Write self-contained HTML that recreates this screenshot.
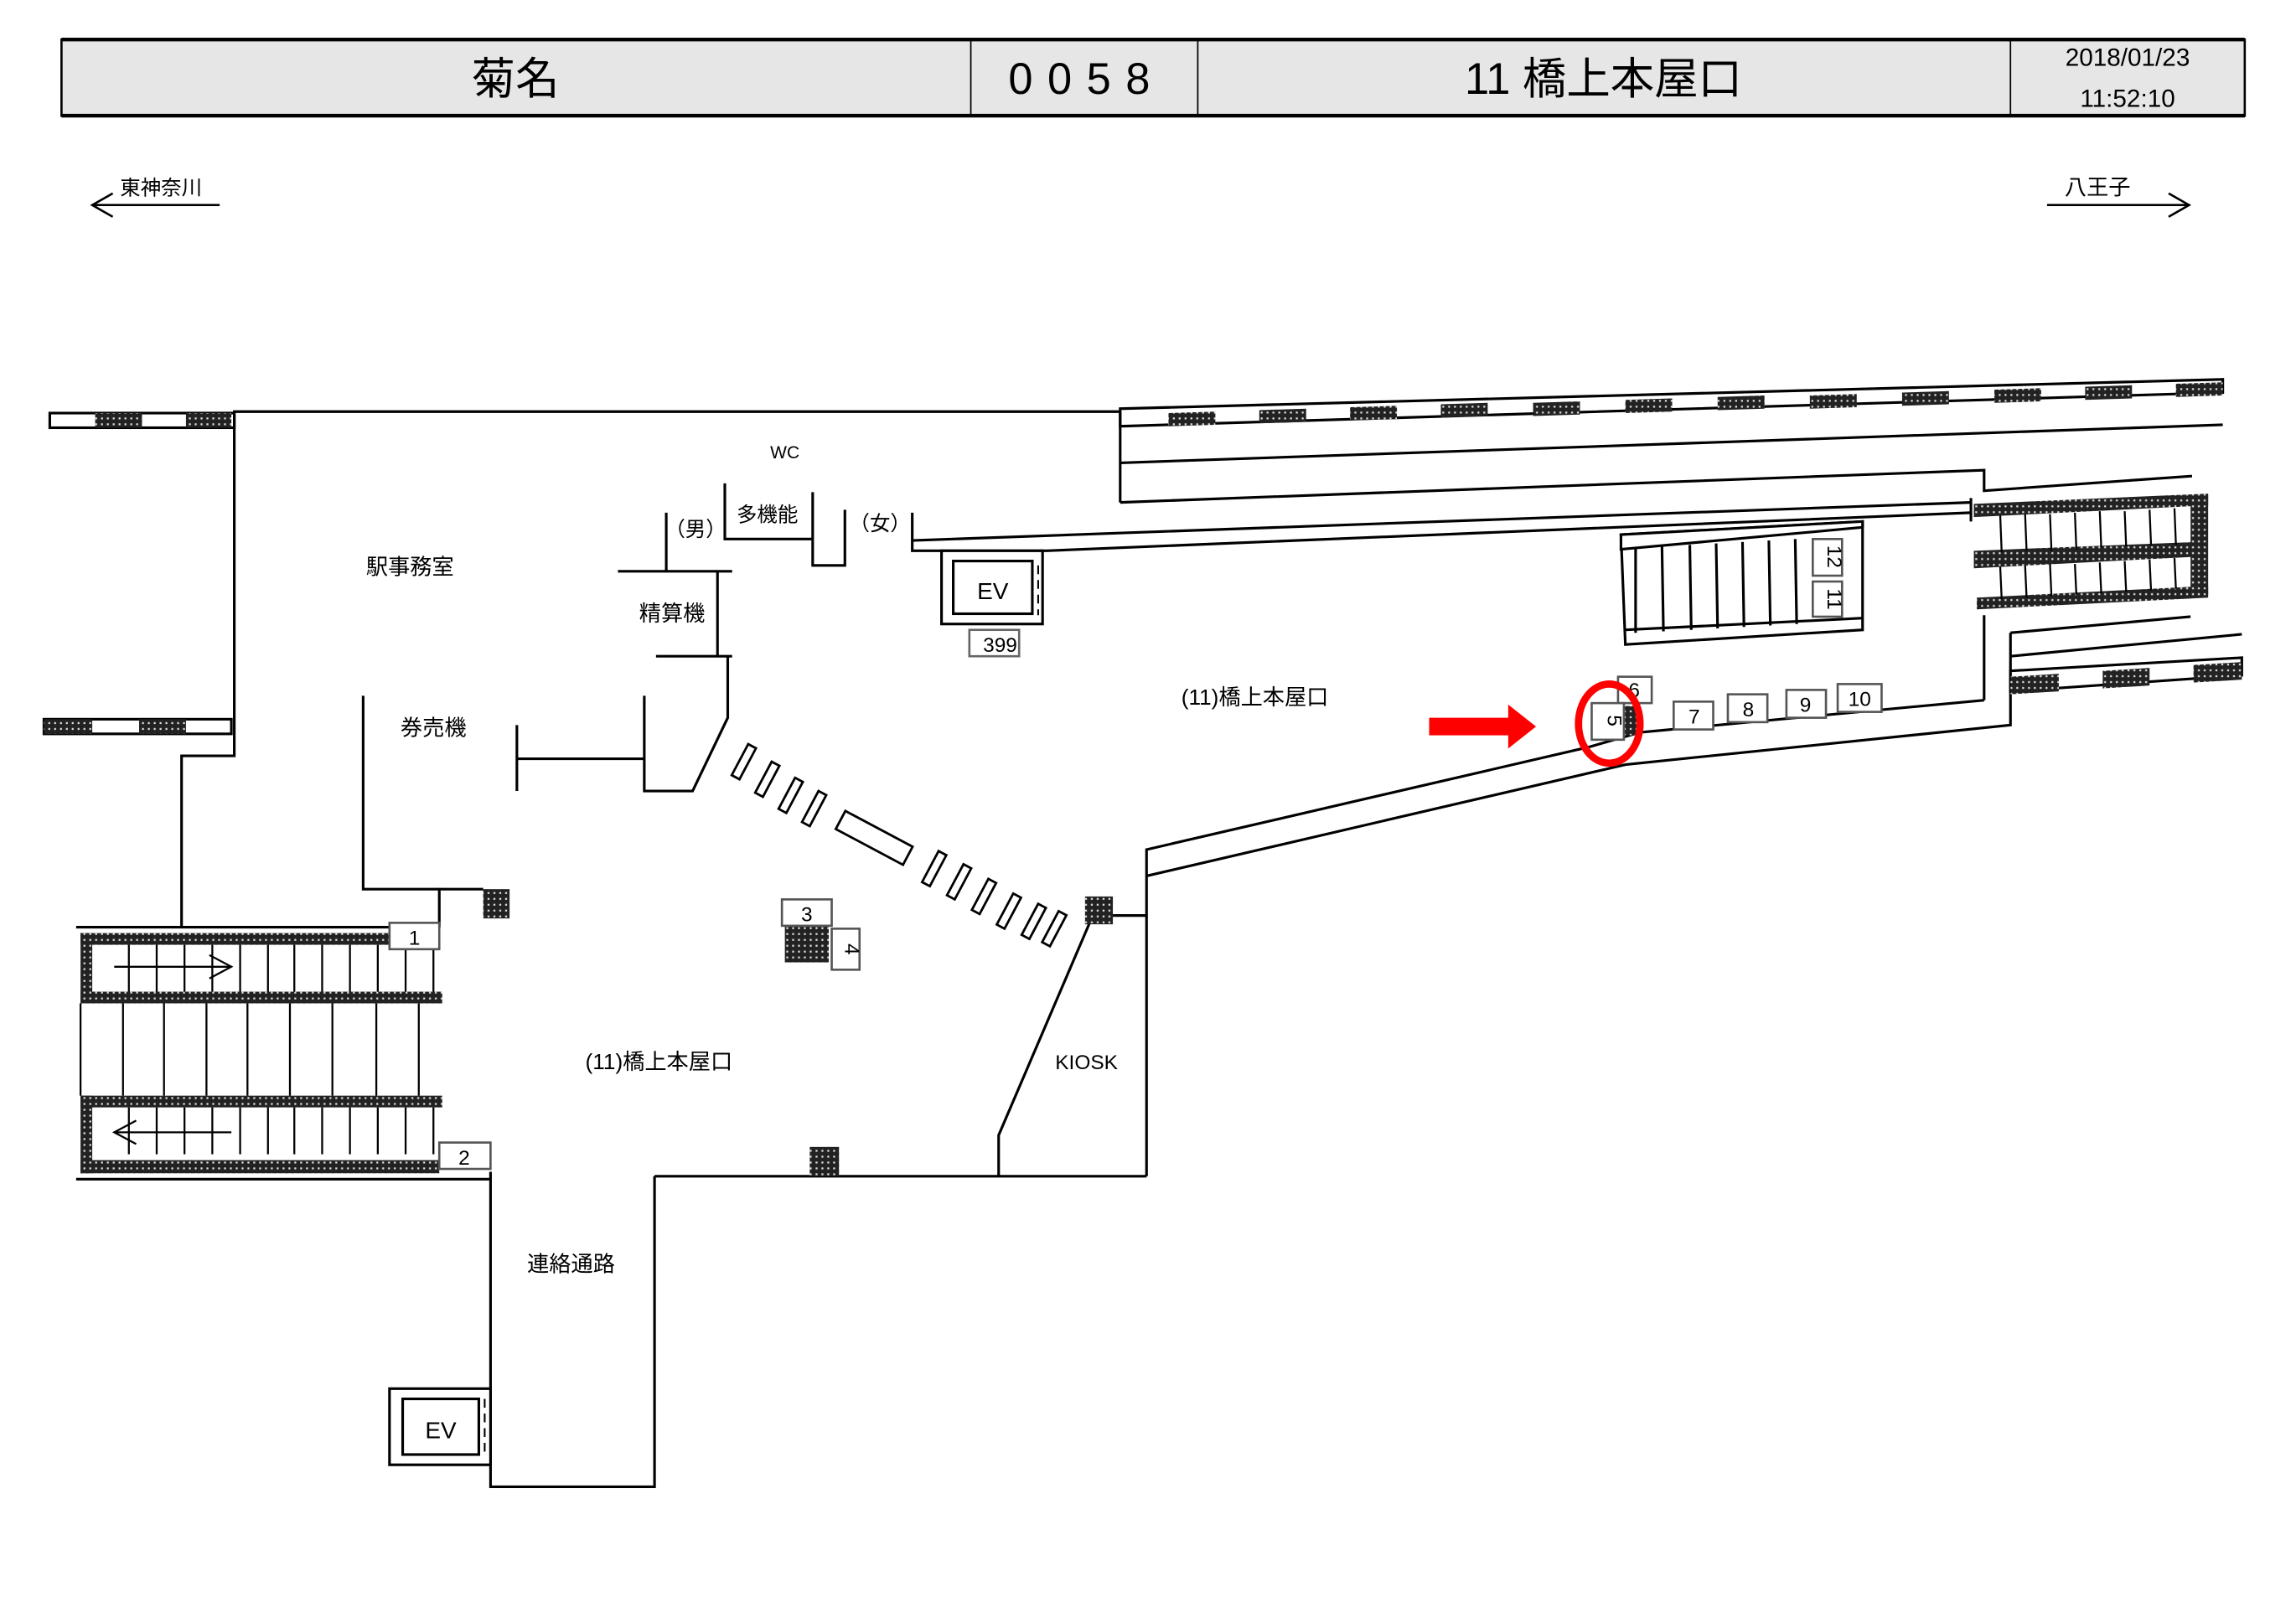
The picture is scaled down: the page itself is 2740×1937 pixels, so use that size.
<!DOCTYPE html>
<html><head><meta charset="utf-8">
<style>
html,body{margin:0;padding:0;background:#fff;}
svg{display:block;}
text{font-family:"Liberation Sans","Noto Sans CJK JP",sans-serif;fill:#000;}
</style></head><body>
<svg width="2740" height="1937" viewBox="0 0 1568 1108" preserveAspectRatio="none" xmlns="http://www.w3.org/2000/svg">
<defs>
<pattern id="h" width="4" height="4" patternUnits="userSpaceOnUse">
<rect width="4" height="4" fill="#222"/><rect x="1" y="1" width="1.3" height="1.3" fill="#ddd"/>
</pattern>
</defs>
<rect x="42" y="27" width="1491" height="52" fill="#e6e6e6" stroke="#000" stroke-width="1.5"/>
<line x1="42" y1="27" x2="1533" y2="27" stroke="#000" stroke-width="2.5"/>
<line x1="42" y1="79" x2="1533" y2="79" stroke="#000" stroke-width="2.5"/>
<line x1="663" y1="27" x2="663" y2="79" stroke="#000"/>
<line x1="818" y1="27" x2="818" y2="79" stroke="#000"/>
<line x1="1373" y1="27" x2="1373" y2="79" stroke="#000"/>
<text x="352" y="64" font-size="30" text-anchor="middle">菊名</text>
<text x="742" y="64" font-size="30" text-anchor="middle" letter-spacing="10">0058</text>
<text x="1095" y="64" font-size="30" text-anchor="middle">11 橋上本屋口</text>
<text x="1453" y="45" font-size="17" text-anchor="middle">2018/01/23</text>
<text x="1453" y="73" font-size="17" text-anchor="middle">11:52:10</text>
<g stroke="#000" stroke-width="1.5" fill="none">
<line x1="63" y1="140" x2="150" y2="140"/><polyline points="77,132 63,140 77,148"/>
<line x1="1398" y1="140" x2="1495" y2="140"/><polyline points="1481,132 1495,140 1481,148"/>
</g>
<text x="82" y="133" font-size="14">東神奈川</text>
<text x="1410" y="133" font-size="15">八王子</text>

<g stroke="#000" stroke-width="1.8" fill="none">
<rect x="34" y="282" width="126" height="10" fill="#fff"/>
<rect x="30" y="491" width="128" height="10" fill="#fff"/>
<polyline points="765,281 160,281 160,516 124,516 124,633"/>
<line x1="52" y1="633" x2="300" y2="633"/>
<line x1="52" y1="805" x2="335" y2="805"/>
<polyline points="248,475 248,607 300,607 300,633"/>
<line x1="300" y1="607" x2="330" y2="607"/>
<line x1="353" y1="495" x2="353" y2="540"/>
<line x1="353" y1="518" x2="440" y2="518"/>
<polyline points="440,475 440,540 473,540 497,490 497,448"/>
<line x1="448" y1="448" x2="500" y2="448"/>
<line x1="490" y1="448" x2="490" y2="390"/>
<line x1="422" y1="390" x2="500" y2="390"/>
<line x1="455" y1="390" x2="455" y2="350"/>
<polyline points="495,330 495,368 555,368"/>
<polyline points="555,336 555,386 577,386 577,348"/>
<polyline points="623,350 623,376 715,376 1346,350"/>
<polyline points="623,369 1346,343"/>
<line x1="1346" y1="340" x2="1346" y2="356"/>
<polygon points="765,279 1518,259 1518,268 765,291" fill="#fff"/>
<line x1="765" y1="281" x2="765" y2="343"/>
<line x1="765" y1="316" x2="1518" y2="290"/>
<polyline points="765,343 1355,321 1355,335 1497,325"/>
<polygon points="1107,365 1272,356 1272,430 1110,440" fill="#fff"/>
<polygon points="1107,365 1272,356 1272,360 1107,375" fill="#fff"/>
<line x1="1110" y1="430" x2="1272" y2="422"/>
<polyline points="1117,374 1117,432"/><polyline points="1135,373 1136,431"/><polyline points="1154,372 1155,430"/><polyline points="1172,371 1173,429"/><polyline points="1190,370 1191,428"/><polyline points="1208,369 1209,427"/><polyline points="1226,368 1227,426"/>
<line x1="1355" y1="420" x2="1355" y2="478"/>
<polyline points="1355,478 1120,500 1085,510 783,580 783,803"/>
<polyline points="1373,432 1373,495 1110,522 783,598"/>
<line x1="1373" y1="432" x2="1496" y2="421"/>
<line x1="1373" y1="448" x2="1531" y2="433"/>
<polygon points="1373,458 1531,449 1531,461 1373,472" fill="#fff"/>
<line x1="783" y1="625" x2="760" y2="625"/>
<polyline points="745,628 682,775 682,803"/>
<line x1="447" y1="803" x2="783" y2="803"/>
<polyline points="335,800 335,1015 447,1015 447,803"/>
<rect x="643" y="376" width="69" height="50" fill="#fff"/>
<rect x="651" y="383" width="54" height="36"/>
<rect x="266" y="948" width="69" height="52" fill="#fff"/>
<rect x="275" y="955" width="52" height="38"/>
</g>
<g stroke="#000" stroke-width="1.2" stroke-dasharray="6,4">
<line x1="709" y1="386" x2="709" y2="420"/>
<line x1="331" y1="955" x2="331" y2="993"/>
</g>
<text x="678" y="409" font-size="16" text-anchor="middle">EV</text>
<text x="301" y="982" font-size="16" text-anchor="middle">EV</text>
<rect x="662" y="430" width="34" height="18" fill="#fff" stroke="#666" stroke-width="1.5"/>
<text x="683" y="445" font-size="14" text-anchor="middle">399</text>

<g fill="url(#h)">
<rect x="65" y="282" width="32" height="10"/><rect x="127" y="282" width="31" height="10"/>
<rect x="30" y="491" width="33" height="10"/><rect x="95" y="491" width="32" height="10"/>
<rect x="330" y="607" width="18" height="20"/>
<rect x="741" y="612" width="19" height="19"/>
<rect x="553" y="783" width="20" height="20"/>
<rect x="536" y="632" width="30" height="25"/>
<rect x="1109" y="482" width="11" height="20"/>
<polygon points="798,282 830,281 830,290 798,291"/>
<polygon points="860,280 892,279 892,288 860,289"/>
<polygon points="922,278 954,277 954,286 922,287"/>
<polygon points="984,276 1016,275 1016,284 984,285"/>
<polygon points="1047,275 1079,274 1079,283 1047,284"/>
<polygon points="1110,273 1142,272 1142,281 1110,282"/>
<polygon points="1173,271 1205,270 1205,279 1173,280"/>
<polygon points="1236,270 1268,269 1268,278 1236,279"/>
<polygon points="1299,268 1331,267 1331,276 1299,277"/>
<polygon points="1362,266 1394,265 1394,274 1362,275"/>
<polygon points="1424,264 1456,263 1456,272 1424,273"/>
<polygon points="1486,262 1518,261 1518,270 1486,271"/>
<polygon points="1373,462 1406,460 1406,472 1373,474"/>
<polygon points="1436,458 1468,456 1468,468 1436,470"/>
<polygon points="1498,454 1531,452 1531,464 1498,466"/>
<polygon points="1348,344 1508,337 1508,345 1348,353"/>
<polygon points="1348,376 1500,370 1500,380 1348,388"/>
<polygon points="1350,408 1508,400 1508,408 1350,416"/>
<rect x="1496" y="338" width="12" height="68"/>
<rect x="55" y="637" width="245" height="8"/><rect x="55" y="677" width="247" height="8"/>
<rect x="55" y="637" width="8" height="48"/>
<rect x="55" y="748" width="247" height="8"/><rect x="55" y="792" width="245" height="9"/>
<rect x="55" y="748" width="8" height="53"/>
</g>
<g stroke="#000" stroke-width="1.3">
<line x1="1366" y1="352" x2="1367" y2="377"/><line x1="1383" y1="351" x2="1384" y2="376"/><line x1="1400" y1="351" x2="1401" y2="376"/><line x1="1417" y1="350" x2="1418" y2="375"/><line x1="1434" y1="349" x2="1435" y2="374"/><line x1="1451" y1="349" x2="1452" y2="373"/><line x1="1468" y1="348" x2="1469" y2="372"/><line x1="1485" y1="347" x2="1486" y2="372"/>
<line x1="1366" y1="387" x2="1367" y2="409"/><line x1="1383" y1="386" x2="1384" y2="408"/><line x1="1400" y1="385" x2="1401" y2="407"/><line x1="1417" y1="385" x2="1418" y2="406"/><line x1="1434" y1="384" x2="1435" y2="405"/><line x1="1451" y1="383" x2="1452" y2="404"/><line x1="1468" y1="382" x2="1469" y2="403"/><line x1="1485" y1="381" x2="1486" y2="402"/>
<line x1="55" y1="685" x2="55" y2="748"/>
<g id="up">
<line x1="88" y1="645" x2="88" y2="677"/><line x1="107" y1="645" x2="107" y2="677"/><line x1="126" y1="645" x2="126" y2="677"/><line x1="145" y1="645" x2="145" y2="677"/><line x1="164" y1="645" x2="164" y2="677"/><line x1="183" y1="645" x2="183" y2="677"/><line x1="201" y1="645" x2="201" y2="677"/><line x1="220" y1="645" x2="220" y2="677"/><line x1="239" y1="645" x2="239" y2="677"/><line x1="258" y1="645" x2="258" y2="677"/><line x1="277" y1="645" x2="277" y2="677"/><line x1="296" y1="645" x2="296" y2="677"/>
</g>
<use href="#up" transform="translate(0,111)"/>
<line x1="84" y1="685" x2="84" y2="748"/><line x1="112" y1="685" x2="112" y2="748"/><line x1="141" y1="685" x2="141" y2="748"/><line x1="169" y1="685" x2="169" y2="748"/><line x1="198" y1="685" x2="198" y2="748"/><line x1="227" y1="685" x2="227" y2="748"/><line x1="257" y1="685" x2="257" y2="748"/><line x1="286" y1="685" x2="286" y2="748"/>
<line x1="78" y1="660" x2="158" y2="660"/><polyline points="143,652 158,660 143,668" fill="none"/>
<line x1="78" y1="773" x2="158" y2="773"/><polyline points="93,765 78,773 93,781" fill="none"/>
</g>
<g fill="#fff" stroke="#000" stroke-width="1.6">
<rect x="-3" y="-12" width="6" height="24" transform="translate(508,520) rotate(28)"/>
<rect x="-3" y="-12" width="6" height="24" transform="translate(524,532) rotate(28)"/>
<rect x="-3" y="-12" width="6" height="24" transform="translate(540,543) rotate(28)"/>
<rect x="-3" y="-12" width="6" height="24" transform="translate(556,552) rotate(28)"/>
<rect x="-26" y="-7" width="52" height="14" transform="translate(597,572) rotate(28)"/>
<rect x="-3" y="-12" width="6" height="24" transform="translate(638,593) rotate(28)"/>
<rect x="-3" y="-12" width="6" height="24" transform="translate(655,602) rotate(28)"/>
<rect x="-3" y="-12" width="6" height="24" transform="translate(672,612) rotate(28)"/>
<rect x="-3" y="-12" width="6" height="24" transform="translate(689,622) rotate(28)"/>
<rect x="-3" y="-12" width="6" height="24" transform="translate(706,629) rotate(28)"/>
<rect x="-3" y="-12" width="6" height="24" transform="translate(720,634) rotate(28)"/>
</g>
<g fill="#fff" stroke="#555" stroke-width="1.5">
<rect x="534" y="614" width="34" height="18"/><rect x="568" y="634" width="19" height="28"/>
<rect x="266" y="630" width="34" height="18"/><rect x="300" y="780" width="35" height="18"/>
<rect x="1238" y="368" width="20" height="25"/><rect x="1238" y="397" width="20" height="24"/>
<rect x="1105" y="462" width="23" height="18"/><rect x="1087" y="480" width="22" height="25"/>
<rect x="1143" y="479" width="27" height="19"/><rect x="1180" y="474" width="27" height="19"/>
<rect x="1220" y="471" width="27" height="19"/><rect x="1255" y="467" width="30" height="19"/>
</g>
<g font-size="14" text-anchor="middle">
<text x="551" y="629">3</text><text x="577" y="648" transform="rotate(90 577 648)">4</text>
<text x="283" y="645">1</text><text x="317" y="795">2</text>
<text x="1248" y="380" transform="rotate(90 1248 380)">12</text><text x="1248" y="409" transform="rotate(90 1248 409)">11</text>
<text x="1116" y="476">6</text><text x="1098" y="492" transform="rotate(90 1098 492)">5</text>
<text x="1157" y="494">7</text><text x="1194" y="489">8</text><text x="1233" y="486">9</text><text x="1270" y="482">10</text>
</g>
<g font-size="15" text-anchor="middle">
<text x="280" y="392">駅事務室</text>
<text x="296" y="502">券売機</text>
<text x="459" y="424">精算機</text>
<text x="536" y="313" font-size="12">WC</text>
<text x="524" y="356" font-size="14">多機能</text>
<text x="475" y="366" font-size="14">（男）</text>
<text x="601" y="362" font-size="14">（女）</text>
<text x="857" y="481">(11)橋上本屋口</text>
<text x="450" y="730">(11)橋上本屋口</text>
<text x="742" y="730" font-size="14">KIOSK</text>
<text x="390" y="868">連絡通路</text>
</g>
<ellipse cx="1099" cy="494" rx="21" ry="27" fill="none" stroke="#f00" stroke-width="5"/>
<rect x="976" y="490" width="56" height="12" fill="#f00"/>
<polygon points="1030,481 1049,496 1030,511" fill="#f00"/>
</svg>
</body></html>
